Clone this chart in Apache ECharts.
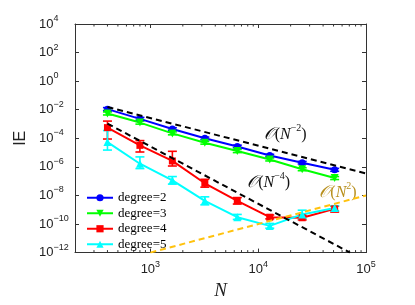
<!DOCTYPE html>
<html><head><meta charset="utf-8">
<script src="https://cdn.jsdelivr.net/npm/echarts@6/dist/echarts.min.js"></script>
<style>html,body{margin:0;padding:0;background:#fff}#c{width:415px;height:305px}</style>
</head><body><div id="c"></div>
<script>
// ---- data ----
const N = [400, 800, 1600, 3200, 6400, 12800, 25600, 51200];
const seriesNames = ['degree=2', 'degree=3', 'degree=4', 'degree=5'];
const deg2   = [1.1e-2, 2.3e-3, 4.5e-4, 1.0e-4, 2.7e-5, 6.3e-6, 1.95e-6, 6.2e-7];
const deg2Lo = [8.5e-3, 1.8e-3, 3.7e-4, 8.2e-5, 2.2e-5, 5.2e-6, 1.6e-6, 4.9e-7];
const deg2Hi = [1.4e-2, 2.9e-3, 5.5e-4, 1.22e-4, 3.3e-5, 7.6e-6, 2.4e-6, 7.8e-7];
const deg3   = [5.5e-3, 1.26e-3, 2.2e-4, 4.9e-5, 1.3e-5, 3.3e-6, 6.8e-7, 1.66e-7];
const deg3Lo = [4.3e-3, 9.8e-4, 1.75e-4, 3.9e-5, 1.0e-5, 2.6e-6, 5.4e-7, 1.3e-7];
const deg3Hi = [7.0e-3, 1.6e-3, 2.8e-4, 6.2e-5, 1.65e-5, 4.2e-6, 8.6e-7, 2.1e-7];
const deg4   = [5.6e-4, 3.2e-5, 2.6e-6, 7.1e-8, 4.2e-9, 3.0e-10, 2.75e-10, 1.15e-9];
const deg4Lo = [8.9e-5, 1.1e-5, 1.15e-6, 3.8e-8, 2.5e-9, 2.3e-10, 1.95e-10, 6.9e-10];
const deg4Hi = [1.6e-3, 6.9e-5, 1.23e-5, 1.35e-7, 7.1e-9, 4.3e-10, 4.0e-10, 1.8e-9];
const deg5   = [5.4e-5, 1.66e-6, 1.15e-7, 4.2e-9, 3.0e-10, 7.4e-11, 4.7e-10, 1.33e-9];
const deg5Lo = [1.5e-5, 7.6e-7, 6.2e-8, 2.2e-9, 2.1e-10, 5.1e-11, 2.4e-10, 8.7e-10];
const deg5Hi = [3.5e-4, 5.0e-6, 2.1e-7, 8.0e-9, 4.7e-10, 1.1e-10, 9.3e-10, 1.9e-9];
// reference slope lines (endpoints)
const refNm2 = [[400, 1.55e-2], [1e5, 3.5e-7]];
const refNm4 = [[400, 1.07e-3], [71000, 1e-12]];
const refN2  = [[1000, 1e-12], [1e5, 1e-8]];
// axes
const xMin = 200, xMax = 1e5, yMin = 1e-12, yMax = 1e4;
const xMinorTicks = [300,400,500,600,700,800,900,2000,3000,4000,5000,6000,7000,8000,9000,20000,30000,40000,50000,60000,70000,80000,90000];
const xTitle = 'N', yTitle = 'IE';

const chart = echarts.init(document.getElementById('c'), null, {renderer: 'canvas'});
const AX = '#333';
const SANS = 'Liberation Sans, Arial, sans-serif';
const SERIF = 'Liberation Serif, DejaVu Serif, serif';

function powLabel(v) {
  const l = Math.log10(v);
  const e = Math.round(l);
  if (Math.abs(l - e) > 1e-6) return '';
  return '{b|10}{s|' + (e < 0 ? '\u2212' + (-e) : e) + '}';
}
const labelRich = {
  b: {fontSize: 13, fontFamily: SANS, color: '#222', lineHeight: 20},
  s: {fontSize: 9, fontFamily: SANS, color: '#222', lineHeight: 10, verticalAlign: 'top'}
};
function pairs(vals) { return N.map((n, i) => [n, vals[i]]); }
function errs(lo, hi) { return N.map((n, i) => [n, lo[i], hi[i]]); }
function errSeries(lo, hi, color) {
  return {
    type: 'custom', data: errs(lo, hi), z: 3, silent: true,
    encode: {x: 0, y: [1, 2]},
    renderItem: function (params, api) {
      const x = api.value(0);
      const a = api.coord([x, api.value(1)]);
      const b = api.coord([x, api.value(2)]);
      const w = 4.5;
      const st = {stroke: color, lineWidth: 1.6};
      return {type: 'group', children: [
        {type: 'line', shape: {x1: a[0], y1: a[1], x2: b[0], y2: b[1]}, style: st},
        {type: 'line', shape: {x1: a[0] - w, y1: a[1], x2: a[0] + w, y2: a[1]}, style: st},
        {type: 'line', shape: {x1: b[0] - w, y1: b[1], x2: b[0] + w, y2: b[1]}, style: st}
      ]};
    }
  };
}
function dataLine(name, vals, color, symbol, size) {
  return {
    name: name, type: 'line', data: pairs(vals), z: 4,
    symbol: symbol, symbolSize: size, showSymbol: true,
    lineStyle: {color: color, width: 2},
    itemStyle: {color: color, borderWidth: 0}
  };
}
function refLine(pts, color, ann, annColor) {
  return {
    type: 'line', data: pts, symbol: 'none', z: 5, silent: true,
    lineStyle: {color: color, width: 2, type: [6, 4]},
    markPoint: {
      symbol: 'circle', symbolSize: 0, silent: true,
      data: [{coord: ann.coord, value: 0}],
      label: {
        show: true, position: 'inside', formatter: ann.text,
        rich: {
          o: {fontSize: 17, fontFamily: SERIF, fontStyle: 'italic', color: annColor, lineHeight: 22},
          t: {fontSize: 16, fontFamily: SERIF, color: annColor, lineHeight: 22},
          n: {fontSize: 16, fontFamily: SERIF, fontStyle: 'italic', color: annColor, lineHeight: 22},
          s: {fontSize: 10, fontFamily: SERIF, color: annColor, lineHeight: 13, verticalAlign: 'top'}
        }
      }
    }
  };
}
const DOWN_TRI = 'path://M0,0 L10,0 L5,9 Z';

const option = {
  animation: false,
  backgroundColor: '#fff',
  grid: {left: 75, right: 49, top: 24, bottom: 47, containLabel: false},
  legend: {
    data: seriesNames, orient: 'vertical', left: 86, top: 190, padding: 0,
    itemWidth: 26, itemHeight: 9, itemGap: 0,
    textStyle: {fontFamily: SERIF, fontSize: 13, color: '#000', lineHeight: 15.5},
    backgroundColor: 'transparent'
  },
  xAxis: [
    {type: 'log', logBase: 10, min: xMin, max: xMax, position: 'bottom',
     name: xTitle, nameLocation: 'middle', nameGap: 22,
     nameTextStyle: {fontFamily: SERIF, fontStyle: 'italic', fontSize: 19, color: '#222'},
     axisLine: {lineStyle: {color: AX, width: 1}},
     axisTick: {inside: true, length: 4, lineStyle: {color: AX}},
     splitLine: {show: false}, minorTick: {show: false},
     axisLabel: {formatter: powLabel, rich: labelRich, margin: 7, showMinLabel: false}},
    {type: 'log', logBase: 10, min: xMin, max: xMax, position: 'top',
     axisLine: {lineStyle: {color: AX, width: 1}},
     axisTick: {inside: true, length: 4, lineStyle: {color: AX}},
     splitLine: {show: false}, axisLabel: {show: false}}
  ],
  yAxis: [
    {type: 'log', logBase: 10, min: yMin, max: yMax, interval: 2, position: 'left',
     name: yTitle, nameLocation: 'middle', nameGap: 45, nameRotate: 90,
     nameTextStyle: {fontFamily: SANS, fontSize: 16, color: '#222'},
     axisLine: {lineStyle: {color: AX, width: 1}},
     axisTick: {inside: true, length: 4, lineStyle: {color: AX}},
     splitLine: {show: false},
     axisLabel: {formatter: powLabel, rich: labelRich, margin: 36, align: 'left'}},
    {type: 'log', logBase: 10, min: yMin, max: yMax, interval: 2, position: 'right',
     axisLine: {lineStyle: {color: AX, width: 1}},
     axisTick: {inside: true, length: 4, lineStyle: {color: AX}},
     splitLine: {show: false}, axisLabel: {show: false}}
  ],
  series: [
    {
      type: 'custom', data: xMinorTicks.map(v => [v, 1]), silent: true, z: 1,
      encode: {x: 0, y: 1},
      renderItem: function (params, api) {
        const v = api.value(0);
        const b = api.coord([v, yMin]);
        const t = api.coord([v, yMax]);
        const st = {stroke: AX, lineWidth: 1};
        return {type: 'group', children: [
          {type: 'line', shape: {x1: b[0], y1: b[1], x2: b[0], y2: b[1] - 2.5}, style: st},
          {type: 'line', shape: {x1: t[0], y1: t[1], x2: t[0], y2: t[1] + 2.5}, style: st}
        ]};
      }
    },
    errSeries(deg2Lo, deg2Hi, '#0000ff'),
    errSeries(deg3Lo, deg3Hi, '#00ff00'),
    errSeries(deg4Lo, deg4Hi, '#ff0000'),
    errSeries(deg5Lo, deg5Hi, '#00ffff'),
    dataLine(seriesNames[0], deg2, '#0000ff', 'circle', 7),
    dataLine(seriesNames[1], deg3, '#00ff00', DOWN_TRI, 8),
    dataLine(seriesNames[2], deg4, '#ff0000', 'rect', 7),
    dataLine(seriesNames[3], deg5, '#00ffff', 'triangle', 8),
    refLine(refNm2, '#000', {coord: [17800, 1.9e-4], text: '{o|𝒪}{t|(}{n|N}{s|\u22122}{t|)}'}, '#111'),
    refLine(refNm4, '#000', {coord: [12500, 7.8e-8], text: '{o|𝒪}{t|(}{n|N}{s|\u22124}{t|)}'}, '#111'),
    refLine(refN2, '#ffc20e', {coord: [55000, 1.6e-8], text: '{o|𝒪}{t|(}{n|N}{s|2}{t|)}'}, '#b8901e')
  ]
};
chart.setOption(option);
</script>
</body></html>
